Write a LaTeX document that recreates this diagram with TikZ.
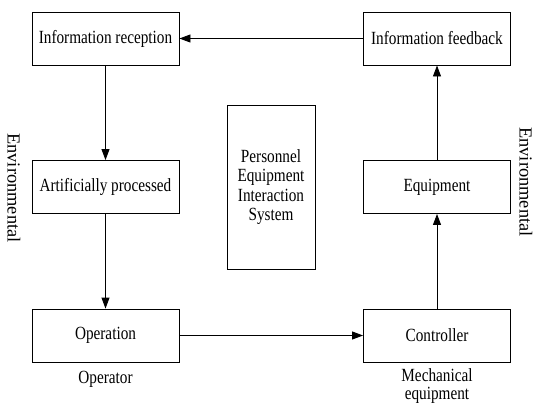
\documentclass[tikz,border=0pt]{standalone}
\usepackage{fontspec}
\setmainfont{Liberation Serif}
\newfontfamily\condfont{Liberation Serif}[FakeStretch=0.82]
\usetikzlibrary{arrows.meta}
\begin{document}
\begin{tikzpicture}[x=1pt,y=-1pt,
  box/.style={draw, line width=0.9pt, minimum width=147pt, minimum height=53pt, inner sep=0pt, font=\condfont\fontsize{18.6}{19.3}\selectfont},
  lbl/.style={font=\condfont\fontsize{18.6}{18}\selectfont, align=center, inner sep=0pt},
  envlbl/.style={font=\fontsize{18.4}{18}\selectfont, inner sep=0pt, rotate=-90},
  conn/.style={line width=0.9pt, -{Triangle[length=11pt,width=8pt]}}]
\useasboundingbox (0,0) rectangle (534,405);
\node[box] (rec) at (105.5,38.5) {Information reception};
\node[box] (fb) at (437,38.5) {Information feedback};
\node[box] (ap) at (105.5,187) {Artificially processed};
\node[box] (eq) at (437,187) {Equipment};
\node[box] (op) at (105.5,335.5) {Operation};
\node[box] (ct) at (437,335.5) {Controller};
\node[draw, line width=0.9pt, minimum width=88pt, minimum height=164pt, inner sep=0pt, align=center, font=\condfont\fontsize{18.6}{19.3}\selectfont] (sys) at (271,187) {Personnel\\Equipment\\Interaction\\System};
\node[lbl] (opr) at (105.5,379) {Operator};
\node[lbl] (mech) at (437,386) {Mechanical\\equipment};
\node[envlbl] (envl) at (14,188) {Environmental};
\node[envlbl] (envr) at (526,182) {Environmental};
\draw[conn] (fb) -- (rec);
\draw[conn] (rec) -- (ap);
\draw[conn] (ap) -- (op);
\draw[conn] (op) -- (ct);
\draw[conn] (ct) -- (eq);
\draw[conn] (eq) -- (fb);
\end{tikzpicture}
\end{document}
